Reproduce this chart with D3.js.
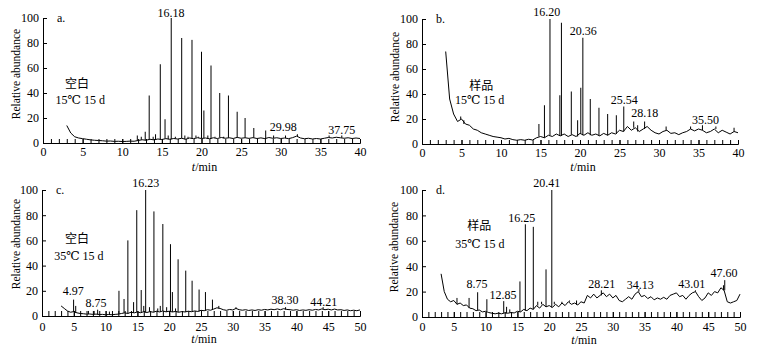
<!DOCTYPE html>
<html>
<head>
<meta charset="utf-8">
<script src="https://cdn.jsdelivr.net/npm/d3@7"></script>
<style>
  body { margin: 0; background: #fff; }
  text { font-family: "Liberation Serif", "Times New Roman", Times, "DejaVu Serif", serif; font-size: 12px; fill: #000; }
  .cjk { font-family: "Noto Sans CJK SC", sans-serif; font-size: 12px; }
  .trace { fill: none; stroke: #000; stroke-width: 1px; stroke-linejoin: round; }
  .axis path, .axis line { stroke: #000; }
</style>
</head>
<body>
<svg id="chart" width="761" height="352"></svg>
<script>
// ---- data (retention time in min, relative abundance) ----
// baselines are sampled every 0.5 min starting at t = 3
var baseStart = 3, baseStep = 0.5;

var baseA = [14, 8, 5, 4, 3.5, 3, 2.5, 2.2, 2, 1.8,
  1.5, 1.6, 1.3, 1.4, 1.2, 1.3, 1.5, 1.4, 2, 2.6,
  2.2, 3, 2.5, 3.2, 2.8, 3.5, 3, 3.6, 3.2, 3.8,
  3, 4, 3.5, 4.2, 3.6, 4, 3.4, 4.2, 3.6, 4.4,
  3.8, 4.2, 3.6, 4.5, 3.8, 4.2, 3.7, 4.3, 3.6, 4.1,
  3.5, 4.4, 3.8, 4.2, 3.6, 4, 3.5, 4.3, 5.5, 4,
  3.4, 3.8, 3.2, 3.6, 3.2, 3.8, 4.4, 4, 4.6, 4.2,
  3.8, 4.2, 3.6, 4, 3.6];

var baseB = [74, 36, 24, 18, 20, 16, 15, 12, 11, 9,
  8, 7, 6, 5.5, 5, 4, 4.5, 3.5, 3, 3.5,
  3, 3.8, 3.2, 5, 6, 5, 7, 6, 8, 6.5,
  8, 6, 7.5, 6, 8.5, 7, 9, 7, 8, 6.5,
  8.5, 7, 9, 8, 11, 10, 14, 11, 13, 10,
  12, 14, 11, 9, 8, 10, 11, 8.5, 9, 7.5,
  9, 10, 12, 10.5, 12, 11, 9, 10, 12, 9,
  11, 9.5, 8, 10, 9];

var baseC = [8, 6, 4, 3, 3.5, 2.5, 2, 1.8, 1.5, 1.6,
  1.3, 1.5, 1.2, 1.3, 1, 1.2, 1, 1.3, 1.5, 2,
  2.5, 2, 3, 2.5, 3.2, 2.6, 3.4, 2.8, 3.5, 3,
  3.8, 3.2, 4, 3.3, 3.8, 3.2, 3.6, 3, 3.5, 3.2,
  3.8, 3.4, 4, 3.6, 4.5, 4.2, 5, 4.6, 5.5, 6.5,
  6, 5, 4.5, 5.2, 4.8, 6, 5, 4.6, 5, 4.4,
  4.8, 4.4, 5, 4.6, 5.2, 4.8, 5.4, 5, 5.6, 5,
  5.8, 5.2, 5, 4.6, 5, 4.4, 4.8, 4.5, 5, 4.6,
  5.2, 4.8, 5.6, 5, 5.4, 4.8, 5.5, 4.8, 5, 4.4,
  4.8, 4.2, 4.6, 4.2, 4.8];

var baseD = [34, 20, 14, 12, 13, 10, 11, 9, 9.5, 7,
  6.5, 5, 5.5, 4, 4.5, 3.5, 3, 2.5, 3, 2.5,
  3.2, 3, 3.5, 3.2, 4.5, 4, 6, 5, 7, 6,
  9, 7, 10, 8, 9, 7.5, 10, 8, 11, 9,
  12, 10, 11, 9.5, 12, 11, 17, 15, 18, 15,
  17, 19, 16, 18, 15, 17, 13, 12, 14, 16,
  14, 18, 20, 16, 17, 14.5, 16, 13.5, 15, 14,
  15.5, 14, 17, 18, 19, 16, 17, 14, 17, 19,
  20, 16, 13, 15, 19, 17, 20, 19, 23, 21,
  12, 11, 12, 13, 18];

// peaks: [time, top]
var peaksA = [[11.9, 6], [12.4, 5], [12.9, 9], [13.4, 38], [13.9, 5], [14.2, 7], [14.8, 63],
  [15.4, 19], [15.8, 6], [16.18, 100], [16.7, 5], [17.5, 84], [17.9, 6], [18.3, 5], [18.8, 82.5],
  [19.3, 6], [19.6, 5], [20.0, 73], [20.3, 26], [20.8, 6], [21.2, 62], [21.7, 5], [22.3, 40],
  [22.8, 5], [23.4, 38], [24.5, 25], [25.5, 20], [26.6, 12], [28.1, 10], [29.1, 6], [30.6, 6],
  [32.1, 7], [36.1, 6], [37.7, 6]];

var peaksB = [[4.9, 22], [5.3, 19], [14.8, 16], [15.5, 31], [16.2, 100], [17.45, 39], [17.65, 97],
  [18.9, 42], [19.7, 19], [20.1, 45], [20.36, 85], [21.3, 36], [22.4, 29], [23.5, 24], [24.6, 23],
  [25.54, 30], [26.8, 18], [27.3, 15], [28.18, 18], [30.9, 14], [34.0, 14], [35.5, 15], [37.2, 14],
  [39.5, 13]];

var peaksC = [[4.97, 13], [5.3, 8], [7.3, 4], [8.2, 4], [8.75, 5], [10.6, 3.5], [12.1, 20], [12.9, 13.5],
  [13.5, 60], [14.4, 11], [14.9, 84], [15.6, 20.6], [16.0, 8], [16.3, 100], [16.9, 7], [17.6, 83],
  [18.2, 6], [18.6, 8], [19.0, 73], [19.6, 7], [20.2, 57], [20.5, 19], [21.0, 6], [21.4, 45],
  [22.6, 36], [23.6, 28], [24.7, 21], [25.7, 19], [26.8, 13], [27.8, 8], [30.5, 7], [38.3, 7],
  [44.2, 7]];

var peaksD = [[5.5, 15], [7.4, 15], [8.75, 19.5], [10.2, 14], [12.85, 12.5], [13.3, 8], [13.8, 6],
  [15.4, 28], [16.25, 73], [17.5, 71], [18.2, 12], [18.8, 12], [19.5, 37.5], [20.41, 100],
  [20.8, 12], [22.0, 12], [23.2, 13], [24.3, 13], [28.2, 21], [34.1, 22], [43.0, 21], [47.4, 25],
  [47.6, 29]];

// peak labels: [text, time, abundance]
var labelsA = [["16.18", 16.15, 101], ["29.98", 30.3, 9.6], ["37.75", 37.7, 7.4]];
var labelsB = [["16.20", 15.8, 102.5], ["20.36", 20.4, 87], ["25.54", 25.6, 32], ["28.18", 28.2, 21.6], ["35.50", 35.9, 16]];
var labelsC = [["16.23", 16.3, 102], ["4.97", 4.9, 16.7], ["8.75", 8.5, 7], ["38.30", 38.2, 9.5], ["44.21", 44.3, 8]];
var labelsD = [["20.41", 19.6, 102], ["16.25", 15.7, 75], ["8.75", 8.65, 23], ["12.85", 12.75, 14],
  ["28.21", 28.25, 23], ["34.13", 34.3, 22], ["43.01", 42.4, 23], ["47.60", 47.5, 31.5]];

var yTicks = [0, 20, 40, 60, 80, 100];
var xTicks40 = [0, 5, 10, 15, 20, 25, 30, 35, 40];
var xTicks50 = [0, 5, 10, 15, 20, 25, 30, 35, 40, 45, 50];

// ---- layout ----
var panels = [
  { tag: "a.", left: 43, right: 360, top: 18, bottom: 143, xMax: 40, xTicks: xTicks40,
    base: baseA, peaks: peaksA, labels: labelsA, name: "空白", cond: "15℃ 15 d",
    nameAt: [4.3, 44], condAt: [4.7, 31], tickLen: 4, labelPad: 4.5, titleX: 20, titleY: 74, unitY: 171 },
  { tag: "b.", left: 422, right: 738, top: 19, bottom: 144, xMax: 40, xTicks: xTicks40,
    base: baseB, peaks: peaksB, labels: labelsB, name: "样品", cond: "15℃ 15 d",
    nameAt: [7.5, 43], condAt: [7.3, 32], tickLen: 4, labelPad: 4.5, titleX: 399, titleY: 77, unitY: 171 },
  { tag: "c.", left: 42, right: 360, top: 190, bottom: 316, xMax: 50, xTicks: xTicks50,
    base: baseC, peaks: peaksC, labels: labelsC, name: "空白", cond: "35℃ 15 d",
    nameAt: [5.5, 58], condAt: [5.8, 44.5], tickLen: 5, labelPad: 6, titleX: 20, titleY: 244, unitY: 343 },
  { tag: "d.", left: 422, right: 740, top: 190, bottom: 317, xMax: 50, xTicks: xTicks50,
    base: baseD, peaks: peaksD, labels: labelsD, name: "样品", cond: "35℃ 15 d",
    nameAt: [9, 68.5], condAt: [9.1, 54], tickLen: 5, labelPad: 5.5, titleX: 398, titleY: 247, unitY: 344 }
];

var svg = d3.select("#chart");

panels.forEach(function(p) {
  var x = d3.scaleLinear().domain([0, p.xMax]).range([p.left, p.right]);
  var y = d3.scaleLinear().domain([0, 100]).range([p.bottom, p.top]);
  var g = svg.append("g");

  var line = d3.line()
      .x(d => x(d[0]))
      .y(d => y(d[1]));

  var basePts = p.base.map((v, i) => [baseStart + i * baseStep, v]);

  // minor ticks every minute, inward
  g.append("g")
      .attr("class", "axis")
      .attr("transform", "translate(0," + p.bottom + ")")
      .call(d3.axisBottom(x).tickValues(d3.range(0, p.xMax + 1)).tickSize(-p.tickLen).tickSizeOuter(0).tickFormat(""));

  g.append("g")
      .attr("class", "axis")
      .attr("transform", "translate(0," + p.bottom + ")")
      .call(d3.axisBottom(x).tickValues(p.xTicks).tickSize(-p.tickLen).tickSizeOuter(0).tickPadding(p.labelPad));

  g.append("g")
      .attr("class", "axis")
      .attr("transform", "translate(" + p.left + ",0)")
      .call(d3.axisLeft(y).tickValues(yTicks).tickSize(-4).tickSizeOuter(0).tickPadding(4));

  g.selectAll(".axis").attr("font-family", null).attr("font-size", null);

  // trace
  g.append("path")
      .datum(basePts)
      .attr("class", "trace")
      .attr("d", line);

  g.append("g")
    .selectAll("path")
    .data(p.peaks)
    .join("path")
      .attr("class", "trace")
      .attr("d", d => {
        var foot = p.base[Math.max(0, Math.round((d[0] - baseStart) / baseStep))];
        return line([[d[0], foot], [d[0], d[1]]]);
      });

  // peak labels
  g.append("g")
    .selectAll("text")
    .data(p.labels)
    .join("text")
      .attr("x", d => x(d[1]))
      .attr("y", d => y(d[2]))
      .attr("text-anchor", "middle")
      .text(d => d[0]);

  g.append("text")
      .attr("x", p.left + 14)
      .attr("y", p.top + 4)
      .text(p.tag);

  g.append("text")
      .attr("class", "cjk")
      .attr("x", x(p.nameAt[0]))
      .attr("y", y(p.nameAt[1]))
      .attr("text-anchor", "middle")
      .text(p.name);

  g.append("text")
      .attr("x", x(p.condAt[0]))
      .attr("y", y(p.condAt[1]))
      .attr("text-anchor", "middle")
      .text(p.cond);

  g.append("text")
      .attr("transform", "translate(" + p.titleX + "," + p.titleY + ") rotate(-90)")
      .attr("text-anchor", "middle")
      .style("font-size", "11.5px")
      .text("Relative abundance");

  var unit = g.append("text")
      .attr("x", (p.left + p.right) / 2 + 3)
      .attr("y", p.unitY)
      .attr("text-anchor", "middle");
  unit.append("tspan").style("font-style", "italic").text("t");
  unit.append("tspan").text("/min");
});
</script>
</body>
</html>
